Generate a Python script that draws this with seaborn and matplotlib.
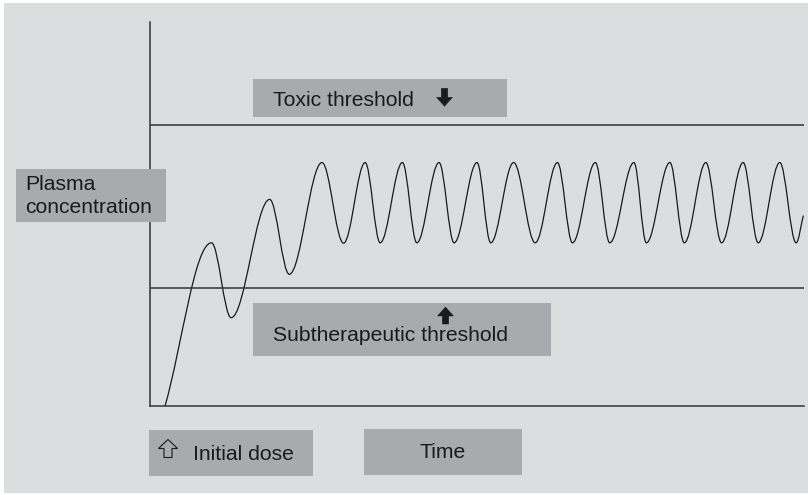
import seaborn as sns
import matplotlib.pyplot as plt
from matplotlib.patches import Rectangle, PathPatch, Polygon
from matplotlib.path import Path

# Turning points of the plasma concentration curve (time, level)
start_point = (2.3, 0.0)
peak_times = [9.4, 18.3, 26.3, 32.9, 38.6, 44.2, 50.0, 55.6, 62.3, 68.1, 74.0, 79.5, 85.0, 90.7, 96.3]
peak_levels = [42.5, 53.8, 63.4, 63.4, 63.4, 63.4, 63.4, 63.4, 63.4, 63.4, 63.4, 63.4, 63.4, 63.4, 63.4]
trough_times = [12.4, 21.3, 29.6, 35.2, 40.8, 46.5, 52.1, 58.9, 64.6, 70.3, 75.9, 81.7, 87.4, 93.0, 98.8]
trough_levels = [23.0, 34.3, 42.4, 42.5, 42.5, 42.5, 42.5, 42.5, 42.5, 42.5, 42.5, 42.5, 42.5, 42.5, 42.5]
end_point = (99.9, 49.6)

toxic_level = 73.2
subtherapeutic_level = 30.7
time_range = [0, 100]

BG = "#dcdddf"
BOX = "#a9aaad"
INK = "#1a1a1a"
LINE = "#333333"

sns.set_theme(style="white")
plt.rcParams["font.family"] = ["Liberation Sans", "DejaVu Sans"]

W, H = 808, 495
fig = plt.figure(figsize=(W / 100, H / 100), dpi=100)
fig.patch.set_facecolor("white")


def fx(x):
    return x / W


def fy(y):
    return 1 - y / H


# grey backdrop
fig.patches.append(Rectangle((fx(4), fy(493)), fx(804), 490 / H, transform=fig.transFigure,
                             facecolor=BG, edgecolor="none", zorder=-5))

ax = fig.add_axes([fx(150), fy(406), fx(804 - 150), (406 - 22) / H])
ax.set_facecolor("none")
ax.set_xlim(time_range)
ax.set_ylim(0, 100)
for side in ["top", "right"]:
    ax.spines[side].set_visible(False)
for side in ["left", "bottom"]:
    ax.spines[side].set_color(LINE)
    ax.spines[side].set_linewidth(1.1)
ax.set_xticks([])
ax.set_yticks([])

# threshold lines
sns.lineplot(x=time_range, y=[toxic_level] * 2, ax=ax, color=LINE, linewidth=1.1)
sns.lineplot(x=time_range, y=[subtherapeutic_level] * 2, ax=ax, color=LINE, linewidth=1.1)

# concentration curve: smooth segments between successive turning points
xs = [start_point[0]]
ys = [start_point[1]]
for pt, pl, tt, tl in zip(peak_times, peak_levels, trough_times, trough_levels):
    xs += [pt, tt]
    ys += [pl, tl]
xs.append(end_point[0])
ys.append(end_point[1])

k = 0.36
verts = [(xs[0], ys[0])]
codes = [Path.MOVETO]
n = len(xs)
for i in range(n - 1):
    x0, y0, x1, y1 = xs[i], ys[i], xs[i + 1], ys[i + 1]
    dx, dy = x1 - x0, y1 - y0
    c1 = (x0 + k * dx, y0 + k * dy) if i == 0 else (x0 + k * dx, y0)
    c2 = (x1 - k * dx, y1 - k * dy) if i == n - 2 else (x1 - k * dx, y1)
    verts += [c1, c2, (x1, y1)]
    codes += [Path.CURVE4] * 3
ax.add_patch(PathPatch(Path(verts, codes), facecolor="none", edgecolor=INK, linewidth=0.9))


def box(x0, y0, x1, y1):
    fig.patches.append(Rectangle((fx(x0), fy(y1)), fx(x1 - x0), (y1 - y0) / H,
                                 transform=fig.transFigure, facecolor=BOX,
                                 edgecolor="none", zorder=2))


def label(x, y, s, **kw):
    kw.setdefault("fontsize", 15.2)
    kw.setdefault("va", "baseline")
    fig.text(fx(x), fy(y), s, color=INK, zorder=3, **kw)


def arrow(cx, cy, w, h, shaft, head, up=True, filled=True):
    s = -1 if up else 1
    tip = cy + s * h / 2
    base = tip - s * head
    tail = cy - s * h / 2
    pts = [(cx, tip), (cx + w / 2, base), (cx + shaft / 2, base), (cx + shaft / 2, tail),
           (cx - shaft / 2, tail), (cx - shaft / 2, base), (cx - w / 2, base)]
    pts = [(fx(px), fy(py)) for px, py in pts]
    fig.patches.append(Polygon(pts, closed=True, transform=fig.transFigure,
                               facecolor=INK if filled else "none", edgecolor=INK,
                               linewidth=0.8 if not filled else 0.3, zorder=3))


box(253, 79, 507, 117)
label(273, 105.7, "Toxic threshold")
arrow(444.5, 97.3, 16, 18, 6.5, 9, up=False)

box(253, 303, 551, 356)
arrow(445.5, 315.5, 16, 17, 6.5, 9, up=True)
label(273, 340.7, "Subtherapeutic threshold")

box(16, 169, 166, 222)
label(25, 190, "Plasma")
label(25, 213.3, "concentration")

box(149, 430, 313, 476)
arrow(168, 448.5, 19, 18, 8, 9, up=True, filled=False)
label(193, 460, "Initial dose")

box(364, 429, 522, 475)
label(419, 458.3, "Time")

fig.savefig("out.png", dpi=100, facecolor=fig.get_facecolor())
